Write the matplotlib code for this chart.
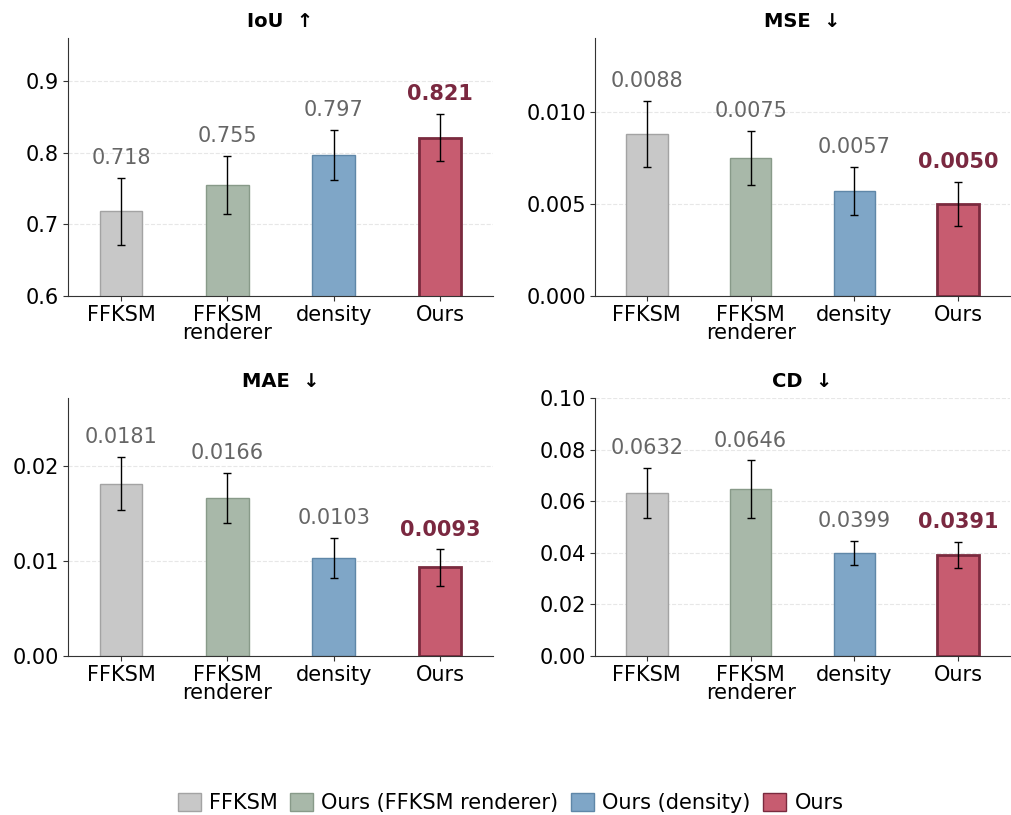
import matplotlib
matplotlib.use("Agg")
import matplotlib.pyplot as plt
from matplotlib.patches import Patch

methods = ["FFKSM", "FFKSM\nrenderer", "density", "Ours"]
legend_labels = ["FFKSM", "Ours (FFKSM renderer)", "Ours (density)", "Ours"]

iou = [0.718, 0.755, 0.797, 0.821]
iou_err = [0.047, 0.041, 0.035, 0.033]
mse = [0.0088, 0.0075, 0.0057, 0.0050]
mse_err = [0.0018, 0.00145, 0.0013, 0.0012]
mae = [0.0181, 0.0166, 0.0103, 0.0093]
mae_err = [0.0028, 0.0026, 0.0021, 0.0019]
cd = [0.0632, 0.0646, 0.0399, 0.0391]
cd_err = [0.0097, 0.0112, 0.0047, 0.0050]

face_colors = ["#c8c8c8", "#a8b8a9", "#7fa6c7", "#c75c70"]
edge_colors = ["#a3a3a3", "#889a89", "#5f87a8", "#7a2a3e"]
best_color = "#7a2840"

panels = [
    ("IoU  \u2191", iou, iou_err, (0.6, 0.96), [0.6, 0.7, 0.8, 0.9], "{:.3f}"),
    ("MSE  \u2193", mse, mse_err, (0.0, 0.0140), [0.0, 0.005, 0.010], "{:.4f}"),
    ("MAE  \u2193", mae, mae_err, (0.0, 0.0271), [0.0, 0.01, 0.02], "{:.4f}"),
    ("CD  \u2193", cd, cd_err, (0.0, 0.10), [0.0, 0.02, 0.04, 0.06, 0.08, 0.10], "{:.4f}"),
]
tick_fmt = ["{:.1f}", "{:.3f}", "{:.2f}", "{:.2f}"]

positions = [
    [0.0673, 0.6368, 0.4204, 0.3166],
    [0.5885, 0.6368, 0.4105, 0.3166],
    [0.0673, 0.1951, 0.4204, 0.3166],
    [0.5885, 0.1951, 0.4105, 0.3166],
]

fig = plt.figure(figsize=(10.11, 8.15), dpi=100)

for i, (title, vals, errs, ylim, yticks, fmt) in enumerate(panels):
    ax = fig.add_axes(positions[i])
    x = list(range(len(vals)))
    for j in x:
        ax.bar(j, vals[j], width=0.4, color=face_colors[j],
               edgecolor=edge_colors[j], linewidth=2 if j == 3 else 1, zorder=2)
    ax.errorbar(x, vals, yerr=errs, fmt="none", ecolor="black",
                elinewidth=1, capsize=3, capthick=1, zorder=3)
    for j in x:
        best = j == 3
        ax.annotate(fmt.format(vals[j]), (j, vals[j] + errs[j]),
                    xytext=(0, 7), textcoords="offset points",
                    ha="center", va="bottom", fontsize=15,
                    color=best_color if best else "#666666",
                    fontweight="bold" if best else "normal")
    ax.set_ylim(*ylim)
    ax.set_xlim(-0.5, 3.5)
    ax.set_yticks(yticks)
    ax.set_yticklabels([tick_fmt[i].format(t) for t in yticks], fontsize=15)
    ax.set_xticks(x)
    ax.set_xticklabels(methods, fontsize=15, linespacing=0.85)
    ax.set_title(title, fontsize=14, fontweight="bold", pad=8)
    ax.grid(axis="y", linestyle="--", color="#dddddd", linewidth=0.8, alpha=0.7, zorder=0)
    ax.spines["top"].set_visible(False)
    ax.spines["right"].set_visible(False)
    ax.spines["left"].set_color("#333333")
    ax.spines["bottom"].set_color("#333333")
    ax.tick_params(axis="both", color="#333333", pad=3)

handles = [Patch(facecolor=face_colors[k], edgecolor=edge_colors[k], label=legend_labels[k])
           for k in range(4)]
fig.legend(handles=handles, loc="center", bbox_to_anchor=(0.505, 0.015), ncol=4,
           frameon=False, fontsize=15, handlelength=1.1, handleheight=1.0,
           handletextpad=0.4, columnspacing=0.6)

fig.savefig("out.png", dpi=100)
